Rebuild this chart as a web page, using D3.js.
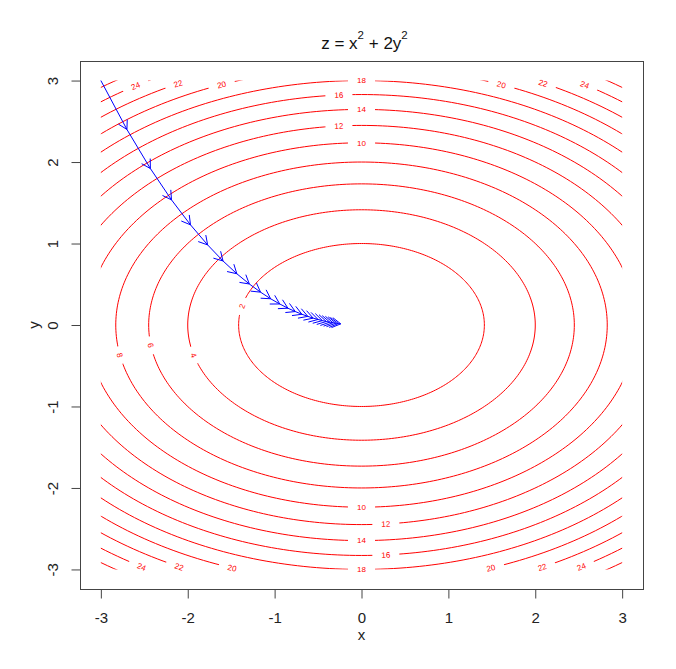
<!DOCTYPE html>
<html lang="en">
<head>
<meta charset="UTF-8">
<title>Gradient descent on z = x^2 + 2y^2</title>
<style>
  body { margin: 0; background: #fff; }
  text { font-family: "Liberation Sans", Arial, Helvetica, sans-serif; }
</style>
<script src="https://d3js.org/d3.v7.min.js"></script>
</head>
<body>
<script>
// contour levels of z = x^2 + 2y^2 drawn over [-3, 3] x [-3, 3]
const levels = [2, 4, 6, 8, 10, 12, 14, 16, 18, 20, 22, 24, 26];
const xTicks = [-3, -2, -1, 0, 1, 2, 3];
const yTicks = [-3, -2, -1, 0, 1, 2, 3];

// where the level labels sit (level, x) on the upper / lower halves, (level, y) on the left side
const topLabels = [[10, 0], [12, -0.26], [14, 0], [16, -0.26], [18, 0],
  [20, -1.61], [22, -2.11], [24, -2.6], [20, 1.61], [22, 2.09], [24, 2.57]];
const bottomLabels = [[10, 0], [12, 0.28], [14, 0], [16, 0.28], [18, 0],
  [20, -1.49], [22, -2.1], [24, -2.53], [20, 1.49], [22, 2.08], [24, 2.53]];
const leftLabels = [[2, 0.23], [4, -0.37], [6, -0.25], [8, -0.37]];

// gradient descent steps
const pathX = [-3, -2.7, -2.43, -2.187, -1.968, -1.771, -1.594, -1.435, -1.291, -1.162,
  -1.046, -0.941, -0.847, -0.762, -0.686, -0.618, -0.556, -0.5, -0.45, -0.405,
  -0.365, -0.328, -0.295, -0.266, -0.239];
const pathY = [3, 2.4, 1.92, 1.536, 1.229, 0.983, 0.786, 0.629, 0.503, 0.403,
  0.322, 0.258, 0.206, 0.165, 0.132, 0.106, 0.084, 0.068, 0.054, 0.043,
  0.035, 0.028, 0.022, 0.018, 0.014];

const width = 676, height = 669;
const box = { left: 80, right: 643, top: 61, bottom: 589 };

const svg = d3.select("body").append("svg")
  .attr("width", width)
  .attr("height", height);

const x = d3.scaleLinear().domain([-3.24, 3.24]).range([box.left, box.right]);
const y = d3.scaleLinear().domain([-3.24, 3.24]).range([box.bottom, box.top]);

// contours only exist on the grid range
svg.append("clipPath").attr("id", "grid")
  .append("rect")
  .attr("x", x(-3)).attr("y", y(3))
  .attr("width", x(3) - x(-3)).attr("height", y(-3) - y(3));

const ring = d3.range(0, 361, 1).map(a => a * Math.PI / 180);
const line = d3.line().x(d => x(d[0])).y(d => y(d[1]));

svg.append("g").attr("clip-path", "url(#grid)")
  .selectAll("path")
  .data(levels)
  .join("path")
  .attr("d", c => line(ring.map(t => [Math.sqrt(c) * Math.cos(t), Math.sqrt(c / 2) * Math.sin(t)])))
  .attr("fill", "none")
  .attr("stroke", "#ff0000")
  .attr("stroke-width", 1);

// labels, with a gap cut into the line
const kx = x(1) - x(0), ky = y(0) - y(1);
const anchors = [];
topLabels.forEach(([c, px]) => anchors.push([c, px, Math.sqrt((c - px * px) / 2)]));
bottomLabels.forEach(([c, px]) => anchors.push([c, px, -Math.sqrt((c - px * px) / 2)]));
leftLabels.forEach(([c, py]) => anchors.push([c, -Math.sqrt(c - 2 * py * py), py]));

const lab = svg.append("g").selectAll("g")
  .data(anchors)
  .join("g")
  .attr("transform", d => {
    // tangent of the ellipse, in screen space
    const dx = -2 * d[2] * kx, dy = -d[1] * ky;
    let ang = Math.atan2(dy, dx) * 180 / Math.PI;
    if (ang > 90) ang -= 180;
    if (ang <= -90) ang += 180;
    return `translate(${x(d[1])},${y(d[2])}) rotate(${ang})`;
  });

lab.append("rect")
  .attr("x", d => -(String(d[0]).length * 4.5 + 4.5))
  .attr("y", -3.5)
  .attr("width", d => String(d[0]).length * 9 + 9)
  .attr("height", 7)
  .attr("fill", "#fff");

lab.append("text")
  .attr("text-anchor", "middle")
  .attr("dy", "0.36em")
  .attr("font-size", 8)
  .attr("fill", "#ff0000")
  .text(d => d[0]);

// descent path, one arrow per step
const steps = d3.range(pathX.length - 1);
const arrows = svg.append("g")
  .attr("stroke", "#0000ff")
  .attr("stroke-width", 1)
  .attr("fill", "none");

arrows.selectAll("line")
  .data(steps)
  .join("line")
  .attr("x1", i => x(pathX[i])).attr("y1", i => y(pathY[i]))
  .attr("x2", i => x(pathX[i + 1])).attr("y2", i => y(pathY[i + 1]));

const headLen = 10, headAng = Math.PI / 6;
arrows.selectAll("path")
  .data(steps)
  .join("path")
  .attr("d", i => {
    const x0 = x(pathX[i]), y0 = y(pathY[i]);
    const x1 = x(pathX[i + 1]), y1 = y(pathY[i + 1]);
    const a = Math.atan2(y1 - y0, x1 - x0);
    const p = d3.path();
    p.moveTo(x1 - headLen * Math.cos(a - headAng), y1 - headLen * Math.sin(a - headAng));
    p.lineTo(x1, y1);
    p.lineTo(x1 - headLen * Math.cos(a + headAng), y1 - headLen * Math.sin(a + headAng));
    return p.toString();
  });

// frame
svg.append("rect")
  .attr("x", box.left + 0.5).attr("y", box.top + 0.5)
  .attr("width", box.right - box.left).attr("height", box.bottom - box.top)
  .attr("fill", "none")
  .attr("stroke", "#444");

// axes
const xAxis = svg.append("g")
  .attr("transform", `translate(0,${box.bottom + 0.5})`)
  .call(d3.axisBottom(x).tickValues(xTicks).tickFormat(d => String(d)).tickSize(9).tickSizeOuter(0));
xAxis.select(".domain").remove();
xAxis.selectAll("line").attr("stroke", "#444");
xAxis.selectAll("text")
  .attr("y", 33).attr("dy", 0)
  .attr("font-size", 15)
  .attr("font-family", "Liberation Sans, Arial, sans-serif")
  .attr("fill", "#222");

const yAxis = svg.append("g")
  .attr("transform", `translate(${box.left + 0.5},0)`)
  .call(d3.axisLeft(y).tickValues(yTicks).tickFormat(d => String(d)).tickSize(9).tickSizeOuter(0));
yAxis.select(".domain").remove();
yAxis.selectAll("line").attr("stroke", "#444");
yAxis.selectAll("text")
  .attr("x", 0).attr("y", -23).attr("dy", 0)
  .attr("text-anchor", "middle")
  .attr("transform", "rotate(-90)")
  .attr("font-size", 15)
  .attr("font-family", "Liberation Sans, Arial, sans-serif")
  .attr("fill", "#222");

svg.append("text")
  .attr("x", (box.left + box.right) / 2).attr("y", 640)
  .attr("text-anchor", "middle")
  .attr("font-size", 15)
  .attr("fill", "#222")
  .text("x");

svg.append("text")
  .attr("transform", `translate(39,${y(0)}) rotate(-90)`)
  .attr("text-anchor", "middle")
  .attr("font-size", 15)
  .attr("fill", "#222")
  .text("y");

// title: z = x^2 + 2y^2
const title = svg.append("text")
  .attr("x", (box.left + box.right) / 2 + 3).attr("y", 49)
  .attr("text-anchor", "middle")
  .attr("font-size", 17)
  .attr("fill", "#111");
title.append("tspan").text("z = x");
title.append("tspan").attr("dy", -10).attr("font-size", 11.5).text("2");
title.append("tspan").attr("dy", 10).text(" + 2y");
title.append("tspan").attr("dy", -10).attr("font-size", 11.5).text("2");
</script>
</body>
</html>
